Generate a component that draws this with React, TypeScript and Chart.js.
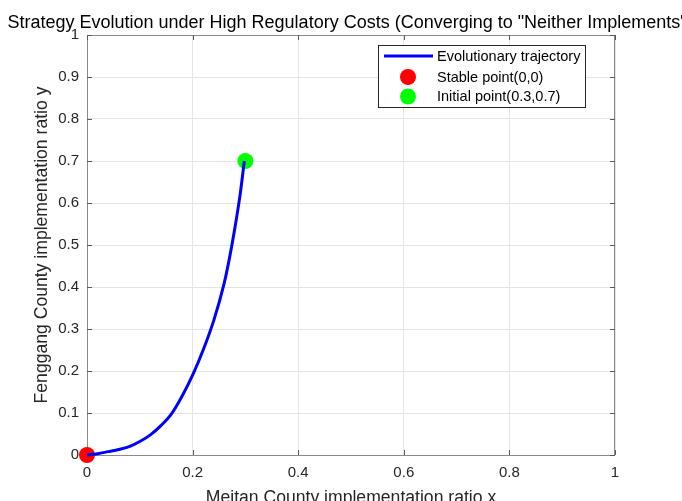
import { useEffect, useRef } from 'react';
import Chart from 'chart.js/auto';

const trajX = [0, 0.02, 0.04, 0.06, 0.08, 0.1, 0.12, 0.14, 0.16, 0.18, 0.2, 0.22, 0.24, 0.26, 0.27, 0.28, 0.29, 0.298];
const trajY = [0, 0.003, 0.008, 0.013, 0.02, 0.032, 0.048, 0.07, 0.098, 0.14, 0.19, 0.25, 0.32, 0.41, 0.47, 0.54, 0.62, 0.7];
const stablePoint = { x: 0, y: 0 };
const initialPoint = { x: 0.3, y: 0.7 };
const xTicks = [0, 0.2, 0.4, 0.6, 0.8, 1];
const yTicks = [0, 0.1, 0.2, 0.3, 0.4, 0.5, 0.6, 0.7, 0.8, 0.9, 1];
const titleText = 'Strategy Evolution under High Regulatory Costs (Converging to "Neither Implements")';
const xLabel = 'Meitan County implementation ratio x';
const yLabel = 'Fenggang County implementation ratio y';
const legendLabels = ['Evolutionary trajectory', 'Stable point(0,0)', 'Initial point(0.3,0.7)'];

const FONT = '"Liberation Sans", Arial, Helvetica, sans-serif';

const decorPlugin = {
  id: 'decor',
  beforeDatasetsDraw(chart: any) {
    const { ctx, chartArea: a, scales } = chart;
    ctx.save();
    ctx.strokeStyle = '#8a8a8a';
    ctx.lineWidth = 1;
    ctx.strokeRect(a.left + 0.5, a.top + 0.5, a.right - a.left - 1, a.bottom - a.top);
    ctx.strokeStyle = '#5a5a5a';
    ctx.beginPath();
    xTicks.forEach((v) => {
      const px = Math.round(scales.x.getPixelForValue(v)) + 0.5;
      ctx.moveTo(px, a.bottom);
      ctx.lineTo(px, a.bottom - 5);
      ctx.moveTo(px, a.top);
      ctx.lineTo(px, a.top + 5);
    });
    yTicks.forEach((v) => {
      const py = Math.round(scales.y.getPixelForValue(v)) + 0.5;
      ctx.moveTo(a.left, py);
      ctx.lineTo(a.left + 5, py);
      ctx.moveTo(a.right, py);
      ctx.lineTo(a.right - 5, py);
    });
    ctx.stroke();
    ctx.restore();
  },
  afterDatasetsDraw(chart: any) {
    const { ctx, chartArea: a } = chart;
    ctx.save();
    ctx.fillStyle = '#000';
    ctx.font = `18px ${FONT}`;
    ctx.textAlign = 'center';
    ctx.textBaseline = 'alphabetic';
    ctx.fillText(titleText, (a.left + a.right) / 2 - 1, 28);
    ctx.fillStyle = '#262626';
    ctx.font = `17.6px ${FONT}`;
    ctx.fillText(xLabel, (a.left + a.right) / 2, 503);
    ctx.save();
    ctx.translate(47, (a.top + a.bottom) / 2);
    ctx.rotate(-Math.PI / 2);
    ctx.fillText(yLabel, 0, 0);
    ctx.restore();
    const lx = 378, ly = 45, lw = 207, lh = 62;
    ctx.fillStyle = '#fff';
    ctx.fillRect(lx, ly, lw, lh);
    ctx.strokeStyle = '#262626';
    ctx.lineWidth = 1;
    ctx.strokeRect(lx + 0.5, ly + 0.5, lw, lh);
    const rows = [56, 77, 96.5];
    ctx.strokeStyle = '#0000ff';
    ctx.lineWidth = 3;
    ctx.beginPath();
    ctx.moveTo(384, rows[0]);
    ctx.lineTo(433, rows[0]);
    ctx.stroke();
    ctx.fillStyle = '#ff0000';
    ctx.beginPath();
    ctx.arc(408, rows[1], 8, 0, Math.PI * 2);
    ctx.fill();
    ctx.fillStyle = '#00ff00';
    ctx.beginPath();
    ctx.arc(408, rows[2], 8, 0, Math.PI * 2);
    ctx.fill();
    ctx.fillStyle = '#000';
    ctx.font = `14.5px ${FONT}`;
    ctx.textAlign = 'left';
    ctx.textBaseline = 'middle';
    legendLabels.forEach((t, i) => ctx.fillText(t, 437, rows[i] + 0.5));
    ctx.restore();
  },
};

export default function App() {
  const ref = useRef<HTMLCanvasElement>(null);
  useEffect(() => {
    if (!ref.current) return;
    const chart = new Chart(ref.current, {
      type: 'scatter',
      data: {
        datasets: [
          {
            data: trajX.map((x, i) => ({ x, y: trajY[i] })),
            showLine: true,
            borderColor: '#0000ff',
            borderWidth: 3,
            pointRadius: 0,
            cubicInterpolationMode: 'monotone',
            clip: false as any,
          },
          {
            data: [stablePoint],
            pointRadius: 8,
            pointBackgroundColor: '#ff0000',
            pointBorderWidth: 0,
            borderColor: '#ff0000',
            clip: false as any,
          },
          {
            data: [initialPoint],
            pointRadius: 8,
            pointBackgroundColor: '#00ff00',
            pointBorderWidth: 0,
            borderColor: '#00ff00',
            clip: false as any,
          },
        ],
      },
      options: {
        animation: false,
        responsive: false,
        devicePixelRatio: 1,
        layout: { padding: { top: 35, right: 67, left: 0, bottom: 0 } },
        plugins: { legend: { display: false }, title: { display: false }, tooltip: { enabled: false } },
        scales: {
          x: {
            type: 'linear',
            min: 0,
            max: 1,
            afterBuildTicks: (s: any) => { s.ticks = xTicks.map((v) => ({ value: v })); },
            afterFit: (s: any) => { s.height = 46; },
            ticks: {
              padding: 9,
              color: '#262626',
              font: { family: FONT, size: 15 },
              maxRotation: 0,
              autoSkip: false,
              callback: (v: any) => String(v),
            },
            grid: { color: '#e4e4e4', drawTicks: false },
            border: { display: false },
          },
          y: {
            type: 'linear',
            min: 0,
            max: 1,
            afterBuildTicks: (s: any) => { s.ticks = yTicks.map((v) => ({ value: v })); },
            afterFit: (s: any) => { s.width = 87; },
            ticks: {
              padding: 8,
              color: '#262626',
              font: { family: FONT, size: 15 },
              autoSkip: false,
              callback: (v: any) => String(v),
            },
            grid: { color: '#e4e4e4', drawTicks: false },
            border: { display: false },
          },
        },
      },
      plugins: [decorPlugin],
    });
    return () => chart.destroy();
  }, []);
  return (
    <div style={{ position: 'fixed', left: 0, top: 0, width: 682, height: 501, background: '#fff' }}>
      <canvas ref={ref} width={682} height={501} style={{ display: 'block' }} />
    </div>
  );
}
